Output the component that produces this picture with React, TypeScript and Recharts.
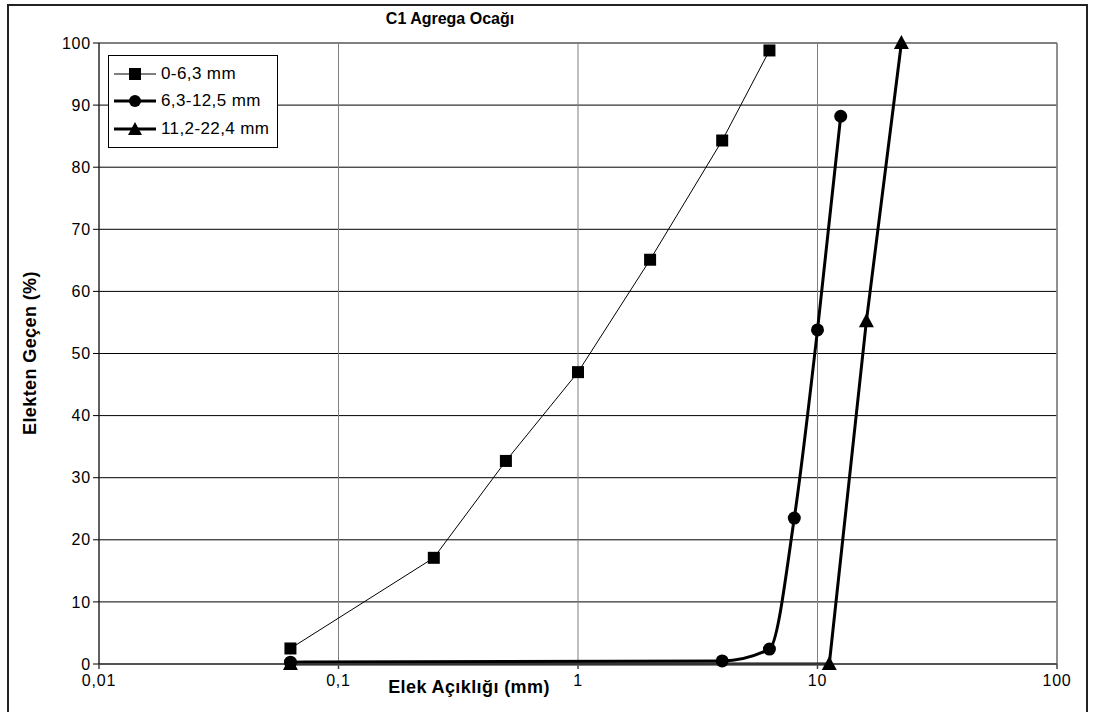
import React from "react";
import {
  CartesianGrid,
  Line,
  LineChart,
  ReferenceLine,
  XAxis,
  YAxis,
} from "recharts";

// elek açıklıkları (mm) ve geçen yüzdeler
const fineSieves = [0.063, 0.25, 0.5, 1, 2, 4, 6.3];
const fineValues = [2.5, 17.1, 32.7, 47, 65.1, 84.3, 98.8];

const midSieves = [0.063, 4, 6.3, 8, 10, 12.5];
const midValues = [0.3, 0.5, 2.4, 23.5, 53.8, 88.2];

const coarseSieves = [0.063, 11.2, 16, 22.4];
const coarseValues = [0, 0, 55.2, 100];

const xTicks = [0.01, 0.1, 1, 10, 100];
const yTicks = [0, 10, 20, 30, 40, 50, 60, 70, 80, 90, 100];

const seriesNames = ["0-6,3 mm", "6,3-12,5 mm", "11,2-22,4 mm"];

const toRows = (xs: number[], ys: number[]) =>
  xs.map((x, i) => ({ x, y: ys[i] }));

const fineData = toRows(fineSieves, fineValues);
const midData = toRows(midSieves, midValues);
const coarseData = toRows(coarseSieves, coarseValues);

const FONT = "'Liberation Sans', Arial, sans-serif";

const SquareDot = (p: any) => (
  <rect key={`s${p.index}`} x={p.cx - 6} y={p.cy - 6} width={12} height={12} fill="#000" />
);
const CircleDot = (p: any) => (
  <circle key={`c${p.index}`} cx={p.cx} cy={p.cy} r={6.5} fill="#000" />
);
const TriangleDot = (p: any) => (
  <path
    key={`t${p.index}`}
    d={`M${p.cx},${p.cy - 8} L${p.cx + 7.5},${p.cy + 6} L${p.cx - 7.5},${p.cy + 6} Z`}
    fill="#000"
  />
);

function LegendIcon({ kind, width }: { kind: number; width: number }) {
  return (
    <svg width={42} height={14} style={{ display: "block", flex: "none" }}>
      <line x1={0} y1={7} x2={42} y2={7} stroke="#000" strokeWidth={width} />
      {kind === 0 && <rect x={15} y={1} width={12} height={12} fill="#000" />}
      {kind === 1 && <circle cx={21} cy={7} r={6} fill="#000" />}
      {kind === 2 && <path d="M21,0 L28,13 L14,13 Z" fill="#000" />}
    </svg>
  );
}

const tickStyle = { fill: "#000", fontSize: 16, fontFamily: FONT, letterSpacing: 0.8 };

export default function App() {
  return (
    <div style={{ position: "absolute", left: 0, top: 0, width: 1093, height: 712, background: "#fff", overflow: "hidden", fontFamily: FONT }}>
      <div
        style={{
          position: "absolute",
          left: 7,
          top: 4,
          width: 1077,
          height: 720,
          border: "2px solid #222",
        }}
      />
      <div style={{ position: "absolute", left: 0, top: 0 }}>
        <LineChart
          width={1093}
          height={712}
          margin={{ top: 43, right: 36, left: 39, bottom: 18 }}
        >
          <CartesianGrid horizontal stroke="#000" strokeWidth={1} vertical={false} />
          <CartesianGrid horizontal={false} vertical stroke="#808080" strokeWidth={1} />
          <ReferenceLine y={100} stroke="#808080" strokeWidth={1.5} />
          <ReferenceLine x={100} stroke="#808080" strokeWidth={1.5} />
          <XAxis
            dataKey="x"
            type="number"
            scale="log"
            domain={[0.01, 100]}
            ticks={xTicks}
            allowDataOverflow
            interval={0}
            height={30}
            stroke="#444"
            strokeWidth={1.5}
            tickSize={5}
            tick={{ ...tickStyle, dy: 4 }}
            tickFormatter={(v: number) => String(v).replace(".", ",")}
          />
          <YAxis
            type="number"
            domain={[0, 100]}
            ticks={yTicks}
            interval={0}
            width={60}
            stroke="#000"
            tickSize={6}
            tick={tickStyle}
          />
          <Line
            data={coarseData}
            dataKey="y"
            type="linear"
            stroke="#000"
            strokeWidth={3}
            dot={TriangleDot}
            isAnimationActive={false}
          />
          <Line
            data={midData}
            dataKey="y"
            type="monotone"
            stroke="#000"
            strokeWidth={3}
            dot={CircleDot}
            isAnimationActive={false}
          />
          <Line
            data={fineData}
            dataKey="y"
            type="linear"
            stroke="#000"
            strokeWidth={1}
            dot={SquareDot}
            isAnimationActive={false}
          />
        </LineChart>
      </div>
      <div style={{ position: "absolute", left: 250, width: 400, top: 10, textAlign: "center", fontWeight: "bold", fontSize: 16 }}>
        C1 Agrega Ocağı
      </div>
      <div style={{ position: "absolute", left: 269, width: 400, top: 677, textAlign: "center", fontWeight: "bold", fontSize: 18, letterSpacing: 0.4 }}>
        Elek Açıklığı (mm)
      </div>
      <div
        style={{
          position: "absolute",
          left: 30,
          top: 353,
          width: 300,
          marginLeft: -150,
          textAlign: "center",
          fontWeight: "bold",
          fontSize: 18,
          letterSpacing: 0.4,
          lineHeight: "20px",
          transform: "translateY(-50%) rotate(-90deg)",
          whiteSpace: "nowrap",
        }}
      >
        Elekten Geçen (%)
      </div>
      <div
        style={{
          position: "absolute",
          left: 108,
          top: 55,
          width: 170,
          height: 93,
          border: "1px solid #000",
          background: "#fff",
          padding: "4px 0 0 5px",
          boxSizing: "border-box",
          fontSize: 17,
          letterSpacing: 0.4,
        }}
      >
        {seriesNames.map((n, i) => (
          <div key={n} style={{ display: "flex", alignItems: "center", height: 27.5, gap: 5, whiteSpace: "nowrap" }}>
            <LegendIcon kind={i} width={i === 0 ? 1 : 3} />
            <span>{n}</span>
          </div>
        ))}
      </div>
    </div>
  );
}
